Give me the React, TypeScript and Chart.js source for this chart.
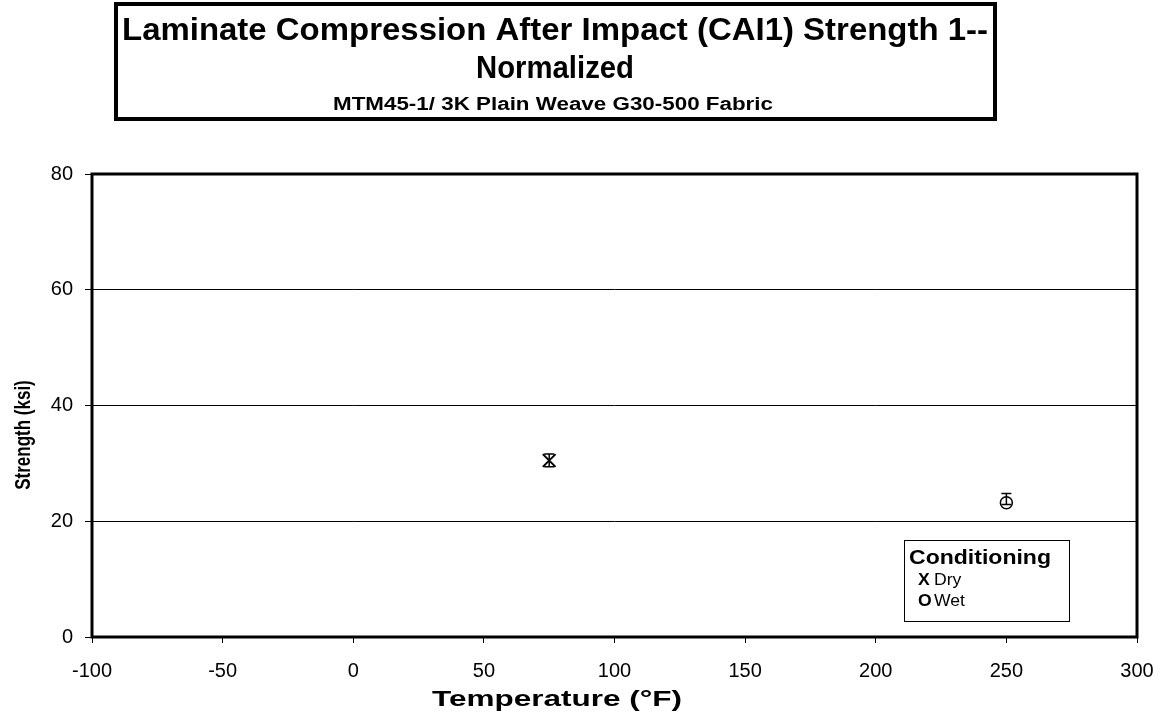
import React, { useEffect, useRef } from "react";
import { Chart, registerables } from "chart.js";

Chart.register(...registerables);

const FONT = '"Liberation Sans", Arial, sans-serif';

// Conditioning groups
const dryTemps = [75];
const dryStrength = [30.5];
const dryUpper = [31.6];
const dryLower = [29.4];

const wetTemps = [250];
const wetStrength = [23.2];
const wetUpper = [24.8];
const wetLower = [22.9];

const titleLines = [
  "Laminate Compression After Impact (CAI1) Strength 1--",
  "Normalized",
  "MTM45-1/ 3K Plain Weave G30-500 Fabric",
];
const xAxisTitle = "Temperature (\u00B0F)";
const yAxisTitle = "Strength (ksi)";
const legendTitle = "Conditioning";
const legendEntries = [
  { mark: "X", label: "Dry" },
  { mark: "O", label: "Wet" },
];

// Draws text at x, squeezed or widened to a given width.
function drawFitted(
  ctx: CanvasRenderingContext2D,
  text: string,
  x: number,
  y: number,
  font: string,
  width: number,
  align: CanvasTextAlign = "center"
) {
  ctx.save();
  ctx.font = font;
  ctx.fillStyle = "#000";
  ctx.textAlign = align;
  ctx.textBaseline = "alphabetic";
  const w = ctx.measureText(text).width;
  ctx.translate(x, y);
  ctx.scale(width / w, 1);
  ctx.fillText(text, 0, 0);
  ctx.restore();
}

function drawPlain(
  ctx: CanvasRenderingContext2D,
  text: string,
  x: number,
  y: number,
  font: string,
  sx = 1.1
) {
  ctx.save();
  ctx.font = font;
  ctx.fillStyle = "#000";
  ctx.textAlign = "left";
  ctx.textBaseline = "alphabetic";
  ctx.translate(x, y);
  ctx.scale(sx, 1);
  ctx.fillText(text, 0, 0);
  ctx.restore();
}

const errorBars = {
  id: "errorBars",
  afterDatasetsDraw(chart: any) {
    const { ctx } = chart;
    const yScale = chart.scales.y;
    chart.data.datasets.forEach((ds: any, i: number) => {
      const meta = chart.getDatasetMeta(i);
      meta.data.forEach((pt: any, j: number) => {
        const hi = yScale.getPixelForValue(ds.upper[j]);
        const lo = yScale.getPixelForValue(ds.lower[j]);
        const x = pt.x;
        ctx.save();
        ctx.strokeStyle = "#000";
        ctx.lineWidth = 1.5;
        ctx.beginPath();
        ctx.moveTo(x, hi);
        ctx.lineTo(x, lo);
        ctx.moveTo(x - 5, hi);
        ctx.lineTo(x + 5, hi);
        ctx.moveTo(x - 5, lo);
        ctx.lineTo(x + 5, lo);
        ctx.stroke();
        ctx.restore();
      });
    });
  },
};

const decorations = {
  id: "decorations",
  afterDraw(chart: any) {
    const { ctx, chartArea } = chart;
    // plot frame
    ctx.save();
    ctx.strokeStyle = "#000";
    ctx.lineWidth = 3;
    ctx.strokeRect(
      chartArea.left,
      chartArea.top,
      chartArea.right - chartArea.left,
      chartArea.bottom - chartArea.top
    );
    ctx.restore();

    // title box
    ctx.save();
    ctx.strokeStyle = "#000";
    ctx.lineWidth = 4;
    ctx.strokeRect(116, 4, 879, 115);
    ctx.restore();
    drawFitted(ctx, titleLines[0], 555, 40, `bold 31px ${FONT}`, 866);
    drawFitted(ctx, titleLines[1], 555, 78, `bold 31px ${FONT}`, 158);
    drawFitted(ctx, titleLines[2], 553, 110, `bold 18px ${FONT}`, 440);

    // axis titles
    drawFitted(ctx, xAxisTitle, 557, 706, `bold 22px ${FONT}`, 250);
    ctx.save();
    ctx.fillStyle = "#000";
    ctx.font = `bold 17px ${FONT}`;
    ctx.textAlign = "center";
    ctx.textBaseline = "alphabetic";
    ctx.translate(30, 435);
    ctx.scale(1.25, 1);
    ctx.rotate(-Math.PI / 2);
    ctx.fillText(yAxisTitle, 0, 0);
    ctx.restore();

    // legend
    ctx.save();
    ctx.strokeStyle = "#000";
    ctx.lineWidth = 1;
    ctx.strokeRect(904.5, 540.5, 165, 81);
    ctx.restore();
    drawFitted(ctx, legendTitle, 909, 564, `bold 20px ${FONT}`, 142, "left");
    legendEntries.forEach((e, i) => {
      const y = 585 + i * 21;
      drawPlain(ctx, e.mark, 918, y, `bold 16px ${FONT}`);
      drawPlain(ctx, e.label, 934, y, `16px ${FONT}`);
    });
  },
};

export default function App() {
  const canvasRef = useRef<HTMLCanvasElement>(null);

  useEffect(() => {
    document.body.style.margin = "0";
    const canvas = canvasRef.current!;
    const chart = new Chart(canvas, {
      type: "scatter",
      data: {
        datasets: [
          {
            label: "Dry",
            data: dryTemps.map((t, i) => ({ x: t, y: dryStrength[i] })),
            upper: dryUpper,
            lower: dryLower,
            pointStyle: "crossRot",
            radius: 9,
            borderWidth: 2,
            borderColor: "#000",
            backgroundColor: "#000",
          } as any,
          {
            label: "Wet",
            data: wetTemps.map((t, i) => ({ x: t, y: wetStrength[i] })),
            upper: wetUpper,
            lower: wetLower,
            pointStyle: "circle",
            radius: 6,
            borderWidth: 1.5,
            borderColor: "#000",
            backgroundColor: "rgba(0,0,0,0)",
          } as any,
        ],
      },
      options: {
        responsive: false,
        animation: false,
        devicePixelRatio: 1,
        layout: { padding: { top: 174, right: 26, left: 0, bottom: 0 } },
        plugins: {
          legend: { display: false },
          tooltip: { enabled: false },
          title: { display: false },
        },
        scales: {
          x: {
            type: "linear",
            min: -100,
            max: 300,
            afterFit(scale: any) {
              scale.height = 80;
              scale.paddingLeft = 0;
              scale.paddingRight = 0;
            },
            ticks: {
              stepSize: 50,
              color: "#000",
              padding: 16,
              font: { family: FONT, size: 20 },
            },
            grid: {
              drawOnChartArea: false,
              drawTicks: true,
              tickLength: 6,
              color: "#000",
              lineWidth: 1,
            },
            border: { display: false },
          },
          y: {
            type: "linear",
            min: 0,
            max: 80,
            afterFit(scale: any) {
              scale.width = 92;
              scale.paddingTop = 0;
              scale.paddingBottom = 0;
            },
            ticks: {
              stepSize: 20,
              color: "#000",
              padding: 12,
              font: { family: FONT, size: 20 },
            },
            grid: {
              drawTicks: true,
              tickLength: 7,
              color: "#000",
              lineWidth: 1,
            },
            border: { display: false },
          },
        },
      },
      plugins: [errorBars, decorations],
    });
    return () => chart.destroy();
  }, []);

  return (
    <div style={{ position: "absolute", left: 0, top: 0, width: 1163, height: 717, background: "#fff" }}>
      <canvas ref={canvasRef} width={1163} height={717} />
    </div>
  );
}
